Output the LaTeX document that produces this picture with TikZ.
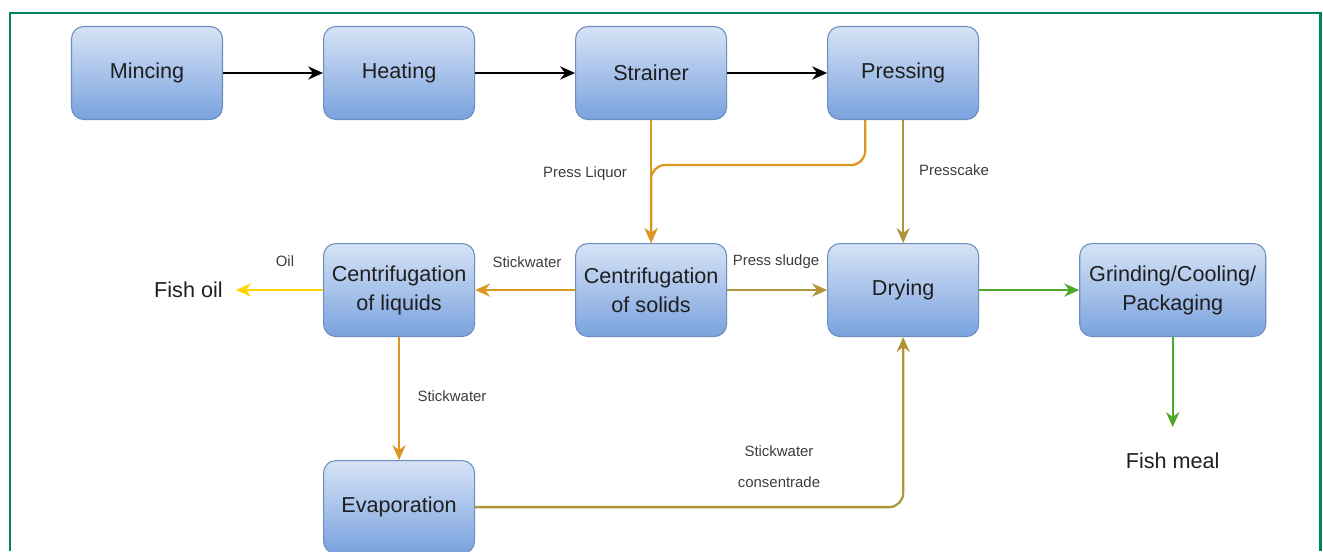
\documentclass[tikz,border=0pt]{standalone}
\usepackage{fontspec}
\setmainfont{Liberation Sans}
\usetikzlibrary{arrows.meta, positioning}
\definecolor{framegreen}{RGB}{0,133,100}
\definecolor{boxtop}{RGB}{214,227,246}
\definecolor{boxbottom}{RGB}{122,162,222}
\definecolor{boxedge}{RGB}{108,142,191}
\definecolor{liquor}{RGB}{218,152,35}
\definecolor{sludge}{RGB}{176,148,60}
\definecolor{oilyellow}{RGB}{255,210,0}
\definecolor{mealgreen}{RGB}{77,168,40}
\definecolor{labelgray}{RGB}{60,60,60}

\begin{document}
\begin{tikzpicture}[
    % Styles
    stage/.style={
        draw=boxedge, line width=0.6pt, rounded corners=7pt,
        top color=boxtop, bottom color=boxbottom,
        minimum width=3.02cm, minimum height=1.86cm,
        align=center, text=black!88,
        font=\fontsize{12.3}{16.5}\selectfont
    },
    flow/.style={
        -{Stealth[length=8.5pt,width=7.5pt]}, line width=1.3pt
    },
    tag/.style={
        font=\fontsize{8.5}{17.5}\selectfont, text=labelgray, align=center
    },
    product/.style={
        font=\fontsize{12.3}{14}\selectfont, text=black!88, inner sep=0pt
    },
    node distance=2.46cm and 2cm
]

\useasboundingbox (-2.94,1.46) rectangle (23.52,-9.56);

% Frame
\draw[framegreen, line width=1.7pt] (-2.74,-9.56) -- (-2.74,1.2) -- (23.47,1.2) -- (23.47,-9.56);

% Top row
\node[stage] (mince) at (0,0) {Mincing};
\node[stage, right=of mince] (heat) {Heating};
\node[stage, right=of heat] (strain) {Strainer};
\node[stage, right=of strain] (press) {Pressing};

% Middle row
\node[stage, below=of heat] (cliq) {Centrifugation\\of liquids};
\node[stage, below=of strain] (csol) {Centrifugation\\of solids};
\node[stage, below=of press] (dry) {Drying};
\node[stage, right=of dry, minimum width=3.72cm] (grind) {Grinding/Cooling/\\Packaging};

% Bottom row
\node[stage, below=of cliq] (evap) {Evaporation};

% Products
\node[product, left=2cm of cliq] (foil) {Fish oil};
\node[product, below=2.3cm of grind] (fmeal) {Fish meal};

% Main line
\draw[flow] (mince) -- (heat);
\draw[flow] (heat) -- (strain);
\draw[flow] (strain) -- (press);

% Liquid side
\draw[flow, liquor] (strain) -- (csol);
\draw[flow, liquor, rounded corners=8pt] ([xshift=-0.76cm]press.south) -- ++(0,-0.9) -| (csol.north);
\draw[flow, liquor] (csol) -- (cliq);
\draw[flow, oilyellow, shorten >=0.26cm] (cliq) -- (foil);
\draw[flow, liquor] (cliq) -- (evap);

% Solid side
\draw[flow, sludge] (press) -- (dry);
\draw[flow, sludge] (csol) -- (dry);
\draw[flow, sludge, rounded corners=8pt] (evap.east) -| (dry.south);
\draw[flow, mealgreen] (dry) -- (grind);
\draw[flow, mealgreen, shorten >=0.5cm] (grind) -- (fmeal);

% Labels
\node[tag] (lliquor) at (8.76,-2.02) {Press Liquor};
\node[tag] (lcake) at (16.14,-1.94) {Presscake};
\node[tag] (lstick) at (7.6,-3.78) {Stickwater};
\node[tag] (lsludge) at (12.58,-3.78) {Press sludge};
\node[tag] (loil) at (2.76,-3.76) {Oil};
\node[tag] (lstickdown) at (6.1,-6.46) {Stickwater};
\node[tag] (lconc) at (12.64,-7.88) {Stickwater\\consentrade};

\end{tikzpicture}
\end{document}
